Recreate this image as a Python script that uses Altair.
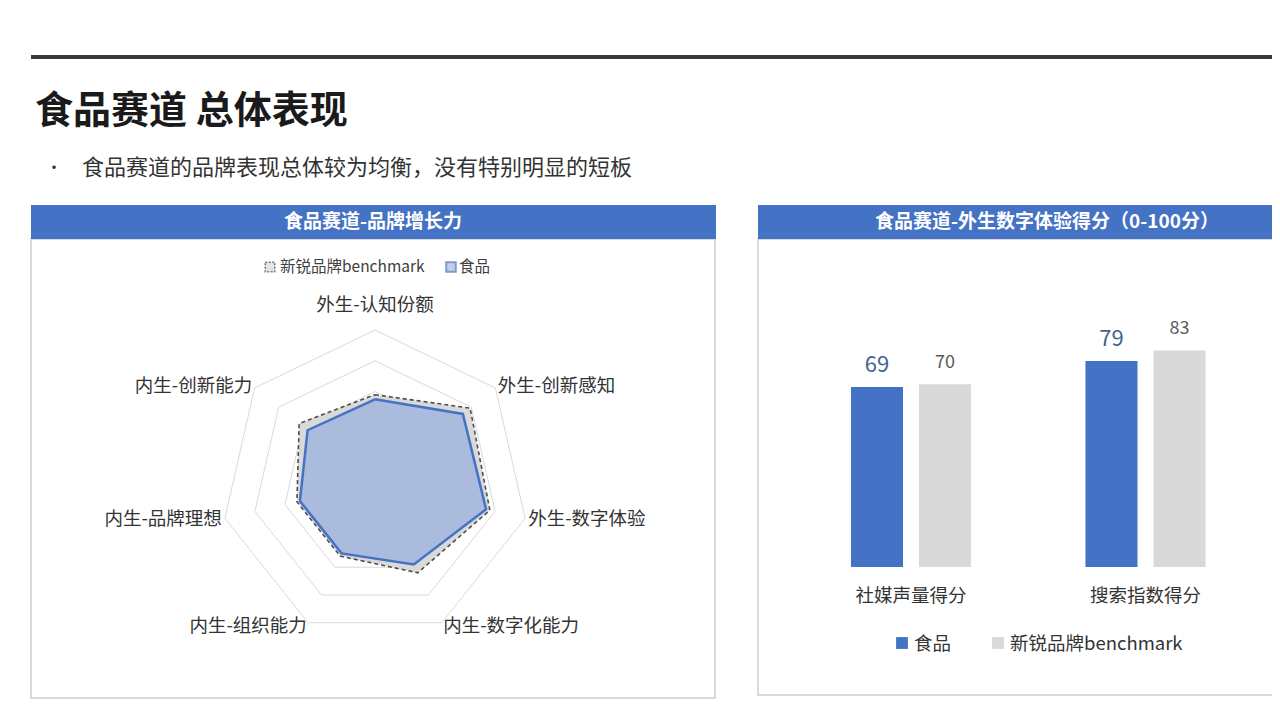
import math
import altair as alt
import pandas as pd

FONT = "Noto Sans CJK SC"

# ---------------- data ----------------
page_title = "食品赛道 总体表现"
bullet_text = "食品赛道的品牌表现总体较为均衡，没有特别明显的短板"
radar_title = "食品赛道-品牌增长力"
bar_title = "食品赛道-外生数字体验得分（0-100分）"

radar_axes = ["外生-认知份额", "外生-创新感知", "外生-数字体验", "内生-数字化能力",
              "内生-组织能力", "内生-品牌理想", "内生-创新能力"]
food_scores = [55, 73, 74, 58, 50, 50, 56]
bench_scores = [58, 79, 76.5, 64, 52, 52, 63]
ring_levels = [20, 40, 60, 80, 100]

series_names = ["食品", "新锐品牌benchmark"]
bar_categories = ["社媒声量得分", "搜索指数得分"]
bar_food = [69, 79]
bar_bench = [70, 83]

# ---------------- tables ----------------
N = len(radar_axes)

poly_rows = []
for s_name, vals in [(series_names[1], bench_scores), (series_names[0], food_scores)]:
    for k in range(N + 1):
        i = k % N
        poly_rows.append({"series": s_name, "axis": radar_axes[i], "idx": i, "order": k, "value": vals[i]})
poly_df = pd.DataFrame(poly_rows)

ring_rows = []
for lv in ring_levels:
    for k in range(N + 1):
        ring_rows.append({"level": lv, "idx": k % N, "order": k, "value": lv})
ring_df = pd.DataFrame(ring_rows)

label_df = pd.DataFrame({"axis": radar_axes, "idx": list(range(N))})

bar_rows = []
for c, f, b in zip(bar_categories, bar_food, bar_bench):
    bar_rows.append({"category": c, "series": series_names[0], "value": f})
    bar_rows.append({"category": c, "series": series_names[1], "value": b})
bar_df = pd.DataFrame(bar_rows)

# ---------------- scales ----------------
rx = alt.Scale(domain=[-100, 100], range=[213, 521], nice=False, zero=False)
ry = alt.Scale(domain=[-100, 100], range=[630, 322], nice=False, zero=False)

ang = f"2*PI*datum.idx/{N}"


def radial(chart, radius_expr="datum.value"):
    return chart.transform_calculate(
        ang=ang,
    ).transform_calculate(
        px=f"({radius_expr})*sin(datum.ang)",
        py=f"({radius_expr})*cos(datum.ang)",
    )


def one(**kw):
    return alt.Chart(pd.DataFrame([kw if kw else {"a": 0}]))


def txt(s, x, y, size, color="#333333", weight="normal", align="left", baseline="middle"):
    return alt.Chart(pd.DataFrame({"t": [s]})).mark_text(
        align=align, baseline=baseline, fontSize=size, font=FONT,
        fontWeight=weight, color=color
    ).encode(x=alt.value(x), y=alt.value(y), text="t:N")


def box(x, x2, y, y2, fill, stroke=None, sw=0):
    kw = dict(fill=fill)
    if stroke:
        kw.update(stroke=stroke, strokeWidth=sw)
    return one().mark_rect(**kw).encode(
        x=alt.value(x), x2=alt.value(x2), y=alt.value(y), y2=alt.value(y2))


layers = []

# page decorations
layers.append(box(23, 1300, 47, 51, "#3a3a3a"))
layers.append(txt(page_title, 27, 104, 38, color="#1a1a1a", weight="bold"))
layers.append(txt("•", 38, 160, 16, color="#333333"))
layers.append(txt(bullet_text, 74, 160, 22, color="#333333"))

# panels
layers.append(box(23, 707, 231, 690, "#ffffff", "#d9d9d9", 2))
layers.append(box(750, 1290, 231, 687, "#ffffff", "#d9d9d9", 2))
layers.append(box(23, 708, 197, 231, "#4472c4"))
layers.append(box(750, 1290, 197, 231, "#4472c4"))
layers.append(txt(radar_title, 365, 214, 19, color="#ffffff", weight="bold", align="center"))
layers.append(txt(bar_title, 1039, 214, 19, color="#ffffff", weight="bold", align="center"))

# ---------------- radar ----------------
rings = radial(alt.Chart(ring_df)).mark_line(color="#d9d9d9", strokeWidth=1).encode(
    x=alt.X("px:Q", scale=rx, axis=None),
    y=alt.Y("py:Q", scale=ry, axis=None),
    detail="level:N",
    order="order:Q",
)
layers.append(rings)

bench_poly = radial(alt.Chart(poly_df).transform_filter(
    alt.datum.series == series_names[1])).mark_line(
    fill="#d9d9d9", stroke="#4d4d4d", strokeWidth=1.6, strokeDash=[4, 3]
).encode(
    x=alt.X("px:Q", scale=rx, axis=None),
    y=alt.Y("py:Q", scale=ry, axis=None),
    order="order:Q",
)
layers.append(bench_poly)

food_poly = radial(alt.Chart(poly_df).transform_filter(
    alt.datum.series == series_names[0])).mark_line(
    fill="#abbbdd", stroke="#4472c4", strokeWidth=2.5
).encode(
    x=alt.X("px:Q", scale=rx, axis=None),
    y=alt.Y("py:Q", scale=ry, axis=None),
    order="order:Q",
)
layers.append(food_poly)

LABEL_R = "102"
for cond, align, dy in [("datum.idx == 0", "center", -22),
                        ("datum.idx >= 1 && datum.idx <= 3", "left", 0),
                        ("datum.idx >= 4", "right", 0)]:
    lab = radial(alt.Chart(label_df).transform_filter(cond), LABEL_R).mark_text(
        align=align, baseline="middle", fontSize=18.5, font=FONT, color="#333333", dy=dy
    ).encode(
        x=alt.X("px:Q", scale=rx, axis=None),
        y=alt.Y("py:Q", scale=ry, axis=None),
        text="axis:N",
    )
    layers.append(lab)

# radar legend
legend_df = pd.DataFrame({"name": [series_names[1], series_names[0]]})
layers.append(one().mark_point(shape="square", size=90, filled=False, fill="#d9d9d9",
                               stroke="#404040", strokeWidth=1.6, strokeDash=[2, 1.5]).encode(
    x=alt.value(262), y=alt.value(259)))
layers.append(one().mark_point(shape="square", size=90, filled=False, fill="#abbbdd",
                               stroke="#4472c4", strokeWidth=2).encode(
    x=alt.value(443), y=alt.value(259)))
layers.append(alt.Chart(legend_df).transform_filter(alt.datum.name == series_names[1]).mark_text(
    align="left", baseline="middle", fontSize=15.5, font=FONT, color="#404040").encode(
    x=alt.value(272), y=alt.value(259), text="name:N"))
layers.append(alt.Chart(legend_df).transform_filter(alt.datum.name == series_names[0]).mark_text(
    align="left", baseline="middle", fontSize=15.5, font=FONT, color="#404040").encode(
    x=alt.value(451), y=alt.value(259), text="name:N"))

# ---------------- bars ----------------
bx = alt.X("category:N", sort=bar_categories,
           scale=alt.Scale(domain=bar_categories, range=[785.75, 1254.75],
                           paddingInner=0.488, paddingOuter=0.244), axis=None)
bxo = alt.XOffset("series:N", sort=series_names,
                  scale=alt.Scale(domain=series_names, paddingInner=0.235, paddingOuter=0))
by = alt.Y("value:Q", scale=alt.Scale(domain=[0, 100], range=[559, 298.1], nice=False), axis=None)

bars = alt.Chart(bar_df).mark_bar().encode(
    x=bx, xOffset=bxo, y=by,
    color=alt.Color("series:N", scale=alt.Scale(domain=series_names, range=["#4472c4", "#d9d9d9"]),
                    legend=None),
)
layers.append(bars)

layers.append(alt.Chart(bar_df).transform_filter(alt.datum.series == series_names[0]).mark_text(
    baseline="alphabetic", dy=-15, fontSize=22, font=FONT, color="#44648f").encode(
    x=bx, xOffset=bxo, y=by, text="value:Q"))
layers.append(alt.Chart(bar_df).transform_filter(alt.datum.series == series_names[1]).mark_text(
    baseline="alphabetic", dy=-16, fontSize=18, font=FONT, color="#595959").encode(
    x=bx, xOffset=bxo, y=by, text="value:Q"))

cat_df = pd.DataFrame({"category": bar_categories})
layers.append(alt.Chart(cat_df).mark_text(
    baseline="middle", fontSize=18.5, font=FONT, color="#333333").encode(
    x=bx, y=alt.value(588), text="category:N"))

# bar legend
layers.append(one().mark_square(size=140, color="#4472c4", opacity=1).encode(
    x=alt.value(894), y=alt.value(635)))
layers.append(one().mark_square(size=140, color="#d9d9d9", opacity=1).encode(
    x=alt.value(990), y=alt.value(635)))
bl_df = pd.DataFrame({"name": series_names})
layers.append(alt.Chart(bl_df).transform_filter(alt.datum.name == series_names[0]).mark_text(
    align="left", baseline="middle", fontSize=18.5, font=FONT, color="#333333").encode(
    x=alt.value(906), y=alt.value(636), text="name:N"))
layers.append(alt.Chart(bl_df).transform_filter(alt.datum.name == series_names[1]).mark_text(
    align="left", baseline="middle", fontSize=18.5, font=FONT, color="#333333").encode(
    x=alt.value(1002), y=alt.value(636), text="name:N"))

chart = alt.layer(*layers).resolve_scale(
    x="independent", y="independent", color="independent"
).properties(
    width=1264, height=700, padding=0, background="#ffffff",
    autosize=alt.AutoSizeParams(type="none"),
).configure_view(strokeWidth=0)

chart.save("out.html", embed_options={"renderer": "svg", "actions": False})
